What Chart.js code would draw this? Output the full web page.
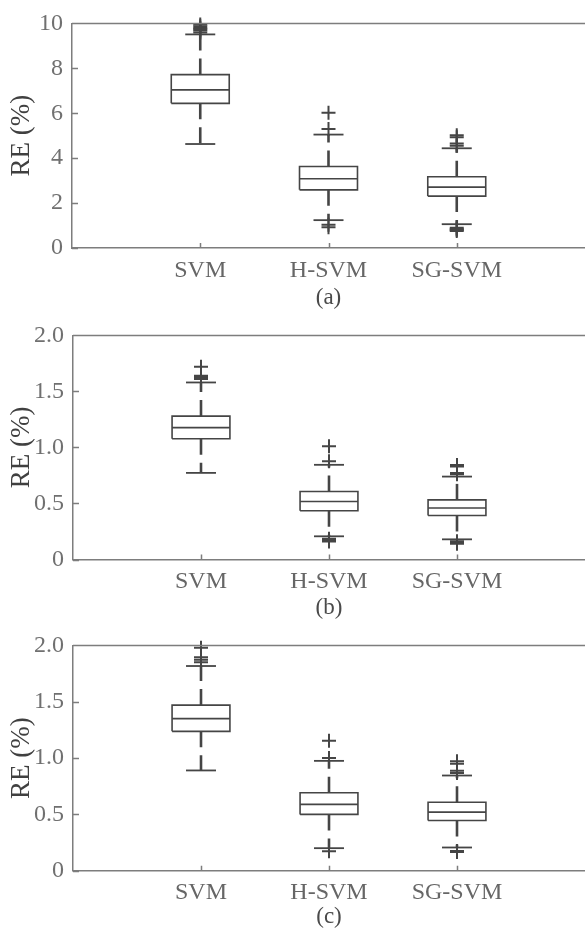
<!DOCTYPE html>
<html><head><meta charset="utf-8">
<script src="https://cdn.jsdelivr.net/npm/chart.js@4.4.0/dist/chart.umd.min.js"></script>
<style>
html,body{margin:0;padding:0;background:#fff;overflow:hidden;width:585px;height:934px}
canvas{position:absolute;left:0;display:block}
</style></head><body>
<canvas id="ca" width="585" height="312" style="top:0"></canvas>
<canvas id="cb" width="585" height="310" style="top:312px"></canvas>
<canvas id="cc" width="585" height="312" style="top:622px"></canvas>
<script>
const categories = ['SVM', 'H-SVM', 'SG-SVM'];

// Panel (a)
const aQ1 = [6.44, 2.59, 2.31];
const aMedian = [7.04, 3.08, 2.71];
const aQ3 = [7.72, 3.63, 3.17];
const aLowerWhisker = [4.63, 1.24, 1.06];
const aUpperWhisker = [9.51, 5.05, 4.44];
const aOutliers = [
  [9.6, 9.68, 9.74, 9.8, 9.87, 9.95],
  [0.92, 1.03, 5.3, 6.02],
  [0.76, 0.8, 0.85, 0.9, 4.55, 4.65, 4.93, 5.02]
];
const aYTicks = [0, 2, 4, 6, 8, 10];

// Panel (b)
const bQ1 = [1.077, 0.435, 0.393];
const bMedian = [1.177, 0.518, 0.46];
const bQ3 = [1.28, 0.607, 0.532];
const bLowerWhisker = [0.773, 0.207, 0.18];
const bUpperWhisker = [1.58, 0.845, 0.74];
const bOutliers = [
  [1.61, 1.62, 1.63, 1.64, 1.72],
  [0.16, 0.175, 0.185, 0.877, 1.01],
  [0.14, 0.15, 0.163, 0.76, 0.773, 0.83, 0.843]
];
const bYTicks = [0, 0.5, 1.0, 1.5, 2.0];

// Panel (c)
const cQ1 = [1.237, 0.5, 0.445];
const cMedian = [1.35, 0.589, 0.52];
const cQ3 = [1.47, 0.692, 0.608];
const cLowerWhisker = [0.89, 0.2, 0.206];
const cUpperWhisker = [1.817, 0.975, 0.845];
const cOutliers = [
  [1.85, 1.873, 1.895, 1.98],
  [0.172, 1.0, 1.153],
  [0.165, 0.175, 0.867, 0.887, 0.95, 0.972]
];
const cYTicks = [0, 0.5, 1.0, 1.5, 2.0];

Chart.defaults.font.family = '"Liberation Serif", "Times New Roman", serif';
Chart.defaults.animation = false;

const INK = '#454545';
const AXIS = '#7d7d7d';
const BOX_HALF = 0.226;
const CAP_HALF = 0.117;

const framePlugin = {
  id: 'frame',
  afterDraw(chart) {
    const {ctx, chartArea: ca, scales: {x, y}} = chart;
    ctx.save();
    ctx.strokeStyle = AXIS;
    ctx.lineWidth = 1.5;
    ctx.beginPath();
    ctx.moveTo(ca.left, ca.top);
    ctx.lineTo(ca.right + 2, ca.top);
    y.ticks.forEach(t => {
      const py = Math.round(y.getPixelForValue(t.value)) + 0.5;
      ctx.moveTo(ca.left, py);
      ctx.lineTo(ca.left + 6, py);
    });
    x.ticks.forEach(t => {
      const px = Math.round(x.getPixelForValue(t.value)) + 0.5;
      ctx.moveTo(px, ca.bottom);
      ctx.lineTo(px, ca.bottom - 5);
    });
    ctx.stroke();
    ctx.restore();
  }
};

function line(data, width, dash) {
  return {
    type: 'scatter', data, showLine: true, fill: false,
    borderColor: INK, borderWidth: width, borderDash: dash || [],
    borderJoinStyle: 'miter', pointRadius: 0, pointHoverRadius: 0, clip: false
  };
}

function makePanel(id, q1, med, q3, lo, hi, outliers, yTicks, decimals, title, pad) {
  const ds = [];
  categories.forEach((c, i) => {
    const x = i + 1;
    ds.push(line([{x: x - BOX_HALF, y: q1[i]}, {x: x + BOX_HALF, y: q1[i]}, {x: x + BOX_HALF, y: q3[i]}, {x: x - BOX_HALF, y: q3[i]}, {x: x - BOX_HALF, y: q1[i]}], 1.6));
    ds.push(line([{x: x - BOX_HALF, y: med[i]}, {x: x + BOX_HALF, y: med[i]}], 1.6));
    ds.push(line([{x, y: q3[i]}, {x, y: hi[i]}], 2.6, [16, 8]));
    ds.push(line([{x, y: q1[i]}, {x, y: lo[i]}], 2.6, [16, 8]));
    ds.push(line([{x: x - CAP_HALF, y: hi[i]}, {x: x + CAP_HALF, y: hi[i]}], 1.8));
    ds.push(line([{x: x - CAP_HALF, y: lo[i]}, {x: x + CAP_HALF, y: lo[i]}], 1.8));
  });
  ds.push({
    type: 'scatter',
    data: outliers.flatMap((arr, i) => arr.map(v => ({x: i + 1, y: v}))),
    pointStyle: 'cross', pointRadius: 7, pointHoverRadius: 7,
    borderColor: INK, borderWidth: 2, backgroundColor: INK, clip: false
  });

  new Chart(document.getElementById(id), {
    type: 'scatter',
    data: {datasets: ds},
    options: {
      responsive: false,
      events: [],
      layout: {autoPadding: false, padding: {top: pad.top, left: 0, right: 0, bottom: 0}},
      plugins: {legend: {display: false}, tooltip: {enabled: false}},
      scales: {
        x: {
          type: 'linear', min: 0, max: categories.length + 1,
          afterBuildTicks: s => { s.ticks = categories.map((c, i) => ({value: i + 1})); },
          afterFit: s => { s.height = pad.xh; },
          grid: {display: false, drawTicks: false},
          border: {display: true, color: AXIS, width: 1.5},
          ticks: {
            padding: 8, color: '#666', font: {size: 24},
            maxRotation: 0, autoSkip: false,
            callback: v => categories[v - 1] || ''
          },
          title: {display: true, text: title, color: '#4a4a4a', font: {size: 23}, padding: {top: 0, bottom: pad.tb}}
        },
        y: {
          type: 'linear', min: yTicks[0], max: yTicks[yTicks.length - 1],
          afterBuildTicks: s => { s.ticks = yTicks.map(v => ({value: v})); },
          afterFit: s => { s.width = pad.left; },
          grid: {display: false, drawTicks: false},
          border: {display: true, color: AXIS, width: 1.5},
          ticks: {
            padding: 9, color: '#707070', font: {size: 24},
            callback: v => v === 0 ? '0' : v.toFixed(decimals)
          },
          title: {display: true, text: 'RE (%)', color: '#404040', font: {size: 27}, padding: {top: 6, bottom: 0}}
        }
      }
    },
    plugins: [framePlugin]
  });
}

makePanel('ca', aQ1, aMedian, aQ3, aLowerWhisker, aUpperWhisker, aOutliers, aYTicks, 0, '(a)', {top: 9, xh: 64, left: 72, tb: 0});
makePanel('cb', bQ1, bMedian, bQ3, bLowerWhisker, bUpperWhisker, bOutliers, bYTicks, 1, '(b)', {top: 7.5, xh: 62.5, left: 73, tb: 0});
makePanel('cc', cQ1, cMedian, cQ3, cLowerWhisker, cUpperWhisker, cOutliers, cYTicks, 1, '(c)', {top: 8.7, xh: 63.3, left: 73, tb: 3});
</script>
</body></html>
